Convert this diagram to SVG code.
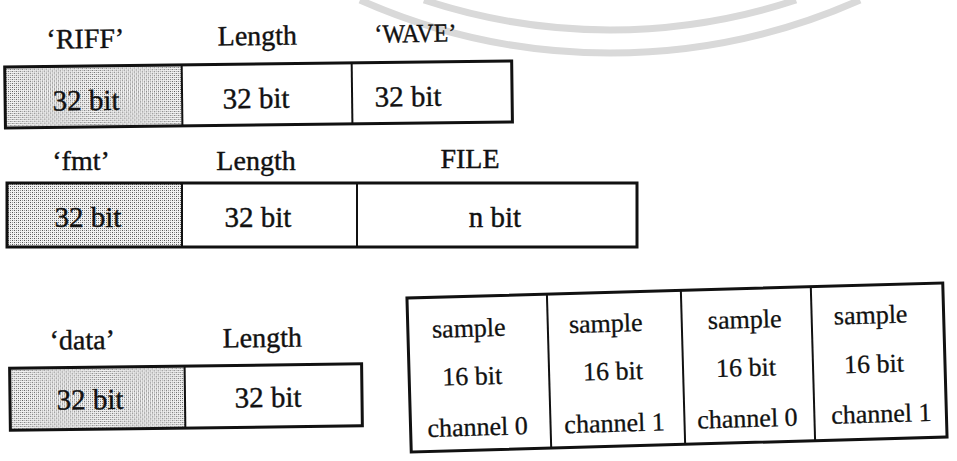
<svg xmlns="http://www.w3.org/2000/svg" width="957" height="461" viewBox="0 0 957 461">
<style>
  .lbl { font-family: "Liberation Serif", "Times New Roman", serif; font-size: 28px; fill: #111; stroke: #111; stroke-width: 0.4; text-anchor: middle; }
  .val { font-family: "Liberation Serif", "Times New Roman", serif; font-size: 29px; fill: #111; stroke: #111; stroke-width: 0.4; text-anchor: middle; }
  .smp { font-family: "Liberation Serif", "Times New Roman", serif; font-size: 26px; fill: #111; stroke: #111; stroke-width: 0.3; text-anchor: middle; }
  .box { fill: none; stroke: #111; stroke-width: 3; }
  .div { stroke: #111; stroke-width: 2; }
  .shade { fill: url(#stipple); }
  .wm { fill: none; stroke: #d9d9d9; stroke-width: 7; }
</style>
<defs>
  <pattern id="stipple" width="4" height="4" patternUnits="userSpaceOnUse">
    <rect width="4" height="4" fill="#f2f2f2"/>
    <rect x="0" y="0" width="1" height="1" fill="#555"/>
    <rect x="2" y="2" width="1" height="1" fill="#555"/>
    <rect x="2" y="0" width="1" height="1" fill="#999"/>
    <rect x="0" y="2" width="1" height="1" fill="#999"/>
  </pattern>
</defs>
<rect width="957" height="461" fill="#fff"/>

<g id="watermark">
  <path class="wm" d="M 424 0 A 593 593 0 0 0 796 0"/>
  <path class="wm" d="M 360 0 A 616 616 0 0 0 860 0"/>
</g>

<g id="riff-chunk" transform="rotate(-0.7 258 90)">
  <text class="lbl" x="86" y="46">‘RIFF’</text>
  <text class="lbl" x="258" y="45">Length</text>
  <text class="lbl" x="416" y="44" style="font-size:26px" textLength="82" lengthAdjust="spacingAndGlyphs">‘WAVE’</text>
  <rect class="shade" x="5" y="64" width="177" height="61"/>
  <rect class="box" x="5" y="64" width="507" height="61"/>
  <line class="div" x1="182" y1="64" x2="182" y2="125"/>
  <line class="div" x1="352" y1="64" x2="352" y2="125"/>
  <text class="val" x="86" y="108">32 bit</text>
  <text class="val" x="256" y="108">32 bit</text>
  <text class="val" x="408" y="108">32 bit</text>
</g>

<g id="fmt-chunk">
  <text class="lbl" x="81" y="170">‘fmt’</text>
  <text class="lbl" x="256" y="170">Length</text>
  <text class="lbl" x="470" y="168">FILE</text>
  <rect class="shade" x="7" y="183" width="175" height="64"/>
  <rect class="box" x="7" y="183" width="630" height="64"/>
  <line class="div" x1="182" y1="183" x2="182" y2="247"/>
  <line class="div" x1="357" y1="183" x2="357" y2="247"/>
  <text class="val" x="88" y="227">32 bit</text>
  <text class="val" x="258" y="227">32 bit</text>
  <text class="val" x="495" y="227">n bit</text>
</g>

<g id="data-chunk" transform="rotate(-0.7 186 398)">
  <text class="lbl" x="83" y="348">‘data’</text>
  <text class="lbl" x="263" y="348">Length</text>
  <rect class="shade" x="10" y="366" width="175" height="62"/>
  <rect class="box" x="10" y="366" width="352" height="62"/>
  <line class="div" x1="185" y1="366" x2="185" y2="428"/>
  <text class="val" x="90" y="408">32 bit</text>
  <text class="val" x="268" y="408">32 bit</text>
</g>

<g id="samples" transform="rotate(-1.6 677 367.5)">
  <rect class="box" x="409" y="290.5" width="536" height="154"/>
  <line class="div" x1="549" y1="290.5" x2="549" y2="444.5"/>
  <line class="div" x1="683" y1="290.5" x2="683" y2="444.5"/>
  <line class="div" x1="813" y1="290.5" x2="813" y2="444.5"/>
  <g id="sample-0">
    <text class="smp" x="470" y="331">sample</text>
    <text class="smp" x="472" y="379">16 bit</text>
    <text class="smp" x="476" y="430">channel 0</text>
  </g>
  <g id="sample-1">
    <text class="smp" x="607" y="330">sample</text>
    <text class="smp" x="613" y="378">16 bit</text>
    <text class="smp" x="613" y="430">channel 1</text>
  </g>
  <g id="sample-2">
    <text class="smp" x="746" y="330">sample</text>
    <text class="smp" x="746" y="378">16 bit</text>
    <text class="smp" x="746" y="429">channel 0</text>
  </g>
  <g id="sample-3">
    <text class="smp" x="872" y="329">sample</text>
    <text class="smp" x="874" y="378">16 bit</text>
    <text class="smp" x="880" y="428">channel 1</text>
  </g>
</g>
</svg>
